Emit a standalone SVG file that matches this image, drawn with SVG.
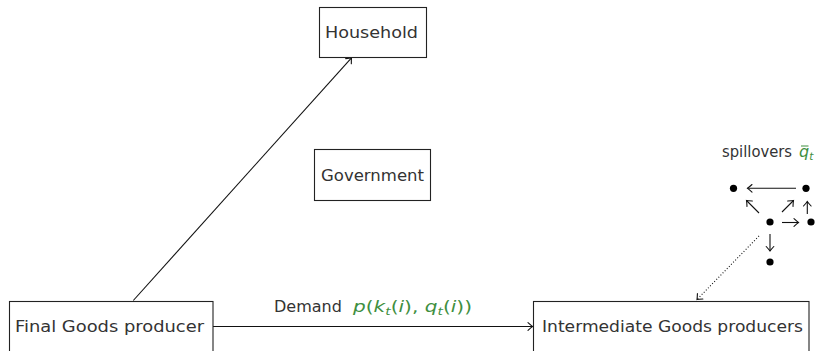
<svg xmlns="http://www.w3.org/2000/svg" width="827" height="351" viewBox="0 0 827 351">
<style>
.box{fill:#fff;stroke:#222;stroke-width:1.1}
.lbl{font-family:"DejaVu Sans",sans-serif;font-size:16px;fill:#333}
.math{font-family:"DejaVu Sans",sans-serif;font-size:16px;fill:#3f8f3f}
.it{font-style:italic}
.edge{stroke:#111;stroke-width:1.1;fill:none}
.dot{fill:#000}
</style>
<defs>
<marker id="to" markerUnits="userSpaceOnUse" markerWidth="12" markerHeight="12" viewBox="-6 -6 12 12" refX="0" refY="0" orient="auto">
<path d="M-4.5,-3.8 Q-1.2,-0.8 0,0 Q-1.2,0.8 -4.5,3.8" fill="none" stroke="#111" stroke-width="1.1" stroke-linecap="round"/>
</marker>
</defs>
<g id="connectors">
<line class="edge" x1="133.3" y1="300.5" x2="351.5" y2="57.8" marker-end="url(#to)"/>
<line class="edge" x1="213" y1="326.5" x2="532.5" y2="326.5" marker-end="url(#to)"/>
<line class="edge" x1="759" y1="236" x2="697" y2="299.5" stroke-dasharray="1,2" marker-end="url(#to)"/>
<line class="edge" x1="796" y1="188.3" x2="747.5" y2="188.3" marker-end="url(#to)"/>
<line class="edge" x1="759" y1="213" x2="746.5" y2="200.5" marker-end="url(#to)"/>
<line class="edge" x1="782" y1="212" x2="793.5" y2="200.5" marker-end="url(#to)"/>
<line class="edge" x1="807.3" y1="214" x2="807.3" y2="201.5" marker-end="url(#to)"/>
<line class="edge" x1="782" y1="222.5" x2="798.5" y2="222.5" marker-end="url(#to)"/>
<line class="edge" x1="770" y1="234" x2="770" y2="251" marker-end="url(#to)"/>
</g>
<g id="household">
<rect class="box" x="319.5" y="7.5" width="107" height="50"/>
<text class="lbl" x="325" y="37.5" textLength="93" lengthAdjust="spacingAndGlyphs">Household</text>
</g>
<g id="government">
<rect class="box" x="314.5" y="149.5" width="116" height="51"/>
<text class="lbl" x="321" y="180.5" textLength="103" lengthAdjust="spacingAndGlyphs">Government</text>
</g>
<g id="final">
<rect class="box" x="9.5" y="301.5" width="203.5" height="52"/>
<text class="lbl" x="15" y="332" textLength="189" lengthAdjust="spacingAndGlyphs">Final Goods producer</text>
</g>
<g id="intermediate">
<rect class="box" x="533.5" y="301.5" width="275.5" height="52"/>
<text class="lbl" x="542" y="332" textLength="261" lengthAdjust="spacingAndGlyphs">Intermediate Goods producers</text>
</g>
<g id="demand-label">
<text class="lbl" x="274" y="312">Demand</text>
<text class="math" x="353" y="312" textLength="119" lengthAdjust="spacingAndGlyphs"><tspan class="it">p</tspan>(<tspan class="it">k</tspan><tspan class="it" font-size="11" dy="3">t</tspan><tspan dy="-3">(</tspan><tspan class="it">i</tspan>),<tspan class="it"> q</tspan><tspan class="it" font-size="11" dy="3">t</tspan><tspan dy="-3">(</tspan><tspan class="it">i</tspan>))</text>
</g>
<g id="spillovers">
<text class="lbl" x="722" y="157" font-size="15" textLength="70" lengthAdjust="spacingAndGlyphs">spillovers</text>
<text class="math it" x="799" y="157" font-size="15">q<tspan font-size="10.5" dy="3">t</tspan></text>
<line x1="801" y1="146" x2="808.5" y2="146" stroke="#3f8f3f" stroke-width="1"/>
<circle class="dot" cx="733.5" cy="188.3" r="3.6"/>
<circle class="dot" cx="806" cy="188.3" r="3.6"/>
<circle class="dot" cx="770" cy="222" r="3.6"/>
<circle class="dot" cx="811" cy="222" r="3.6"/>
<circle class="dot" cx="770" cy="262" r="3.6"/>
</g>
</svg>
